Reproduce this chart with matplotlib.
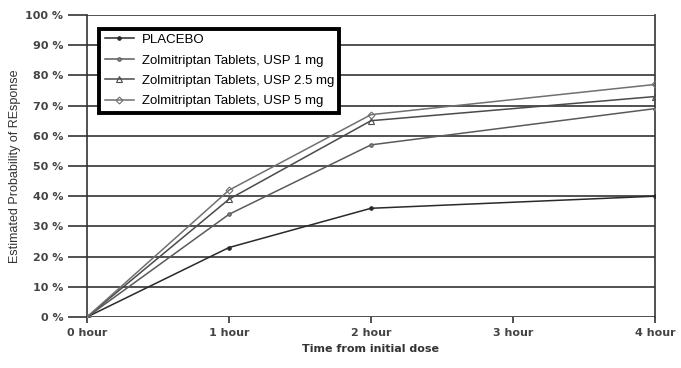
import matplotlib

matplotlib.use("Agg")
import matplotlib.pyplot as plt  # noqa: E402
from matplotlib import font_manager  # noqa: E402

hours = [0, 1, 2, 4]
xtick_pos = [0, 1, 2, 3, 4]
xtick_labels = ["0 hour", "1 hour", "2 hour", "3 hour", "4 hour"]

series_names = [
    "PLACEBO",
    "Zolmitriptan Tablets, USP 1 mg",
    "Zolmitriptan Tablets, USP 2.5 mg",
    "Zolmitriptan Tablets, USP 5 mg",
]
placebo = [0, 23, 36, 40]
zolmi_1mg = [0, 34, 57, 69]
zolmi_25mg = [0, 39, 65, 73]
zolmi_5mg = [0, 42, 67, 77]

names = {f.name for f in font_manager.fontManager.ttflist}
narrow = next((n for n in ("Liberation Sans Narrow", "Liberation Sans", "DejaVu Sans") if n in names))

fig = plt.figure(figsize=(6.81, 3.68), dpi=100)
ax = fig.add_axes([87 / 681, 51 / 368, 568 / 681, 302 / 368])

estilos = [
    dict(color="#2a2a2a", marker="o", ms=2.5, mfc="#2a2a2a"),
    dict(color="#5a5a5a", marker="o", ms=2.5, mfc="#888888"),
    dict(color="#4a4a4a", marker="^", ms=4, mfc="none"),
    dict(color="#707070", marker="D", ms=3.5, mfc="none"),
]
for nombre, ys, st in zip(series_names, [placebo, zolmi_1mg, zolmi_25mg, zolmi_5mg], estilos):
    ax.plot(hours, ys, lw=1.1, label=nombre, mew=0.8, zorder=3, **st)

ax.set_xlim(0, 4)
ax.set_ylim(0, 100)
ax.set_yticks(range(0, 101, 10))
ax.set_yticklabels([f"{v} %" for v in range(0, 101, 10)], fontsize=8, color="#444444", fontweight="bold")
ax.set_xticks(xtick_pos)
ax.set_xticklabels(xtick_labels, fontsize=8, color="#444444", fontweight="bold")
ax.grid(axis="y", color="#333333", lw=1.2, zorder=1)
ax.tick_params(axis="y", length=14, width=1.2, color="#333333", pad=3)
ax.tick_params(axis="x", length=4, width=1.2, color="#333333", pad=4)
for s in ("top", "bottom"):
    ax.spines[s].set_visible(False)
for s in ("left", "right"):
    ax.spines[s].set_color("#333333")
    ax.spines[s].set_linewidth(1.2)

ax.set_xlabel("Time from initial dose", fontsize=8, color="#333333", fontweight="bold", labelpad=4)
ax.set_ylabel("Estimated Probability of REsponse", fontsize=9, family=narrow, color="#333333", labelpad=3)

leg = ax.legend(loc="upper left", bbox_to_anchor=(0.022, 0.955), frameon=True, fancybox=False,
                prop={"family": narrow, "size": 9.5}, handlelength=2.2, borderpad=0.4,
                labelspacing=0.62, handletextpad=0.6, borderaxespad=0)
leg.get_frame().set_edgecolor("black")
leg.get_frame().set_linewidth(2.8)
leg.get_frame().set_alpha(1)
leg.set_zorder(5)

fig.savefig("out.png", dpi=100)
